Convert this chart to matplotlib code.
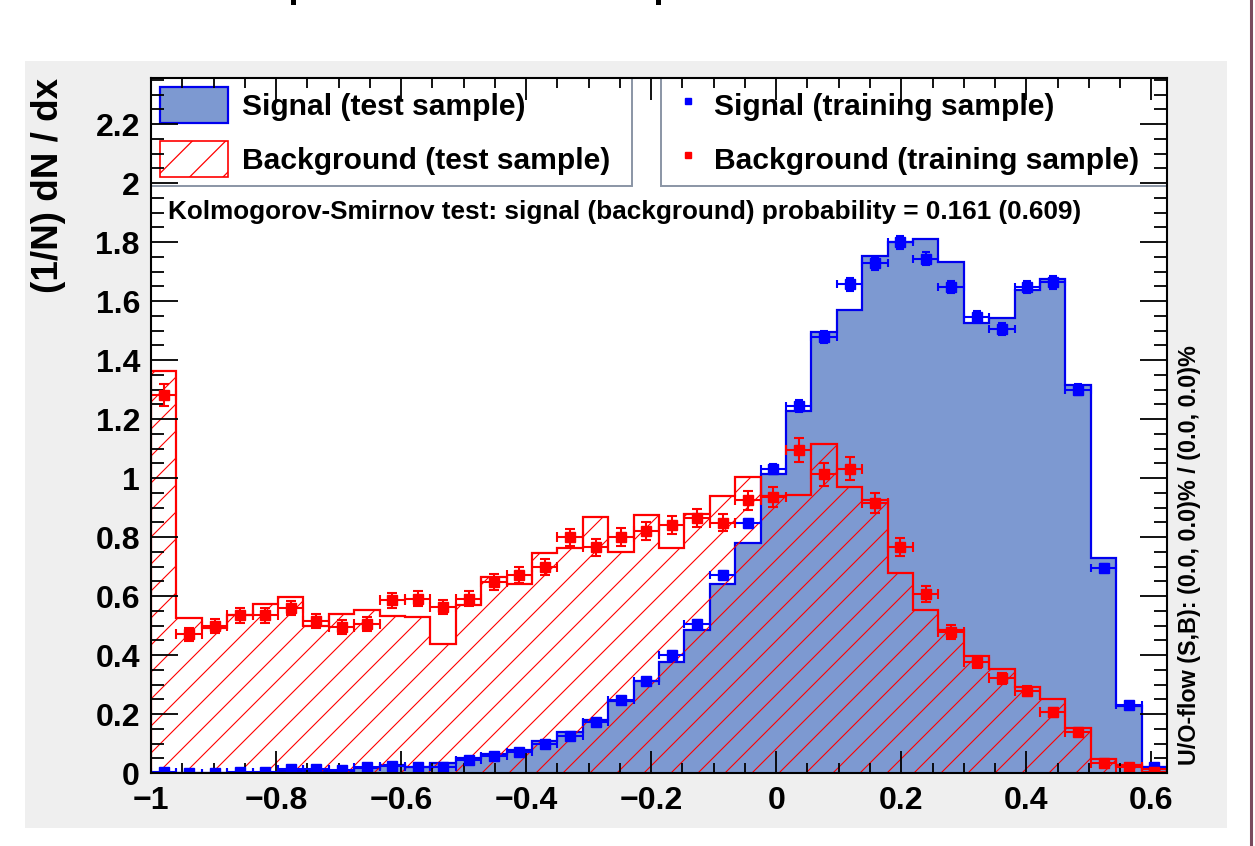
import numpy as np
import matplotlib
matplotlib.use("Agg")
import matplotlib.pyplot as plt
from matplotlib.patches import Patch, Rectangle
from matplotlib.lines import Line2D
from matplotlib.collections import LineCollection
from matplotlib.transforms import IdentityTransform
from matplotlib.ticker import MultipleLocator, FuncFormatter

# ---------------- data ----------------
x_min, x_max, n_bins = -1.0, 0.625, 40

sig_test = [0.0, 0.0, 0.0, 0.0, 0.001, 0.006, 0.006, 0.007, 0.017, 0.026,
            0.020, 0.033, 0.051, 0.064, 0.077, 0.108, 0.138, 0.180, 0.243, 0.312,
            0.377, 0.485, 0.640, 0.780, 1.012, 1.228, 1.494, 1.570, 1.752, 1.800,
            1.810, 1.731, 1.527, 1.541, 1.638, 1.675, 1.315, 0.728, 0.228, 0.022]

bkg_test = [1.364, 0.525, 0.490, 0.534, 0.574, 0.595, 0.497, 0.539, 0.554, 0.531,
            0.528, 0.438, 0.571, 0.663, 0.641, 0.745, 0.763, 0.868, 0.748, 0.875,
            0.762, 0.878, 0.938, 1.005, 0.938, 0.942, 1.114, 0.970, 0.925, 0.677,
            0.552, 0.485, 0.395, 0.354, 0.290, 0.251, 0.154, 0.049, 0.028, 0.012]

sig_train = [0.002, 0.001, 0.001, 0.002, 0.003, 0.012, 0.012, 0.010, 0.019, 0.023,
             0.021, 0.020, 0.044, 0.056, 0.071, 0.098, 0.125, 0.172, 0.248, 0.312,
             0.401, 0.506, 0.670, 0.846, 1.031, 1.244, 1.478, 1.656, 1.728, 1.800,
             1.744, 1.648, 1.547, 1.505, 1.648, 1.663, 1.300, 0.695, 0.232, 0.022]

sig_train_err = [0.002, 0.002, 0.002, 0.002, 0.002, 0.003, 0.003, 0.003, 0.004, 0.004,
                 0.004, 0.004, 0.005, 0.006, 0.006, 0.007, 0.008, 0.009, 0.010, 0.011,
                 0.012, 0.013, 0.015, 0.016, 0.018, 0.019, 0.020, 0.021, 0.022, 0.022,
                 0.022, 0.021, 0.020, 0.020, 0.021, 0.021, 0.019, 0.014, 0.008, 0.003]

bkg_train = [1.282, 0.471, 0.499, 0.534, 0.534, 0.559, 0.516, 0.494, 0.505, 0.586,
             0.591, 0.563, 0.591, 0.647, 0.670, 0.698, 0.799, 0.765, 0.800, 0.820,
             0.840, 0.865, 0.849, 0.924, 0.936, 1.094, 1.012, 1.032, 0.916, 0.766,
             0.607, 0.478, 0.377, 0.321, 0.278, 0.206, 0.138, 0.035, 0.019, 0.004]

bkg_train_err = [0.037, 0.022, 0.023, 0.024, 0.024, 0.024, 0.023, 0.023, 0.023, 0.025,
                 0.025, 0.024, 0.025, 0.026, 0.027, 0.027, 0.029, 0.029, 0.029, 0.030,
                 0.030, 0.031, 0.030, 0.032, 0.033, 0.040, 0.038, 0.040, 0.033, 0.030,
                 0.026, 0.023, 0.020, 0.019, 0.017, 0.015, 0.012, 0.006, 0.004, 0.002]

y_max = 2.356
legend_labels_test = ["Signal (test sample)", "Background (test sample)"]
legend_labels_train = ["Signal (training sample)", "Background (training sample)"]
ks_text = "Kolmogorov-Smirnov test: signal (background) probability = 0.161 (0.609)"
uoflow_text = "U/O-flow (S,B): (0.0, 0.0)% / (0.0, 0.0)%"
y_title = "(1/N) dN / dx"

# ---------------- style ----------------
SIG_FILL = "#7d99d1"
SIG_LINE = "#0000ee"
BKG_LINE = "#ff0000"
FONT = "Liberation Sans"

plt.rcParams["font.family"] = [FONT, "DejaVu Sans"]
plt.rcParams["font.weight"] = "bold"
plt.rcParams["hatch.color"] = BKG_LINE
plt.rcParams["hatch.linewidth"] = 0.9

W, H = 1255, 846
fig = plt.figure(figsize=(W / 100, H / 100), dpi=100, facecolor="white")

# grey canvas area
fig.add_artist(Rectangle((25 / W, 1 - 828 / H), 1202 / W, 767 / H,
                         transform=fig.transFigure, facecolor="#efefef",
                         edgecolor="none", zorder=0))
# dark right border line
fig.add_artist(Line2D([1251 / W, 1251 / W], [0, 1], transform=fig.transFigure,
                      color="#7a4a5e", lw=2.2))
# remnants of a cut-off title at the very top edge (small dark strokes)
for xp in (291, 656):
    fig.add_artist(Rectangle((xp / W, 1 - 5 / H), 4.5 / W, 5 / H,
                             transform=fig.transFigure, facecolor="black",
                             edgecolor="none"))

ax = fig.add_axes([151 / W, 1 - 773 / H, 1016 / W, 695 / H])
ax.set_facecolor("white")
ax.set_axisbelow(False)

edges = np.linspace(x_min, x_max, n_bins + 1)
centers = 0.5 * (edges[:-1] + edges[1:])
half = 0.5 * (edges[1] - edges[0])

# signal test histogram
ax.stairs(sig_test, edges, fill=True, facecolor=SIG_FILL, edgecolor="none", zorder=1)
ax.stairs(sig_test, edges, color=SIG_LINE, lw=1.6, zorder=1.2)

# background test histogram: hatched
bkg_patch = ax.stairs(bkg_test, edges, fill=True, facecolor="none",
                      edgecolor="none", zorder=1.3)
ax.set_xlim(x_min, x_max)
ax.set_ylim(0, y_max)

bb = ax.bbox
spacing = 27.0
cs = np.arange(bb.x0 - bb.y1 - spacing, bb.x1 - bb.y0 + spacing, spacing)
segs = [[(bb.x0, bb.x0 - c), (bb.x1, bb.x1 - c)] for c in cs]
hatch = LineCollection(segs, colors=BKG_LINE, linewidths=0.8,
                       transform=IdentityTransform(), zorder=1.4)
ax.add_collection(hatch, autolim=False)
hatch.set_clip_path(bkg_patch)
ax.stairs(bkg_test, edges, color=BKG_LINE, lw=1.6, zorder=1.5)

# training samples as points with errors
ax.errorbar(centers, sig_train, xerr=half, yerr=sig_train_err, fmt="s",
            color="#0000ff", ms=6.5, elinewidth=1.5, capsize=3, capthick=1.5, zorder=3)
ax.errorbar(centers, bkg_train, xerr=half, yerr=bkg_train_err, fmt="s",
            color="#ff0000", ms=7, elinewidth=1.5, capsize=3.5, capthick=1.5, zorder=3.1)

# axes styling
for s in ax.spines.values():
    s.set_linewidth(1.5)
    s.set_zorder(4)
ax.xaxis.set_major_locator(MultipleLocator(0.2))
ax.xaxis.set_minor_locator(MultipleLocator(0.05))
ax.yaxis.set_major_locator(MultipleLocator(0.2))
ax.yaxis.set_minor_locator(MultipleLocator(0.05))
fmt = FuncFormatter(lambda v, p: ("%g" % round(v, 3)).replace("-", "\u2212"))
ax.xaxis.set_major_formatter(fmt)
ax.yaxis.set_major_formatter(fmt)
ax.tick_params(which="both", direction="in", top=True, right=True, width=1.3,
               labelsize=23, colors="black")
ax.tick_params(axis="x", which="major", length=15.8, pad=9)
ax.tick_params(axis="x", which="minor", length=7.2)
ax.tick_params(axis="y", which="major", length=19.4, pad=8)
ax.tick_params(axis="y", which="minor", length=9.4)
for lab in ax.get_xticklabels() + ax.get_yticklabels():
    lab.set_fontweight("bold")

ax.set_ylabel(y_title, fontsize=26.5, fontweight="bold", loc="top")
ax.yaxis.set_label_coords(-0.101, 1.0)
ax.yaxis.label.set_va("center")

ax.text(1.0226, 0.0115, uoflow_text, transform=ax.transAxes, rotation=90,
        rotation_mode="anchor", ha="left", va="center", fontsize=16.8,
        fontweight="bold")
ax.text(0.0167, 0.807, ks_text, transform=ax.transAxes, ha="left", va="center",
        fontsize=18.8, fontweight="bold", zorder=5)

# legends (drawn below the axis ticks, like the reference)
lprop = {"family": FONT, "weight": "bold", "size": 21.6}
h_sig = Patch(facecolor=SIG_FILL, edgecolor=SIG_LINE, linewidth=1.6)
h_bkg = Patch(facecolor="white", edgecolor=BKG_LINE, hatch="/", linewidth=1.2)
leg1 = ax.legend([h_sig, h_bkg], legend_labels_test, loc="upper left",
                 bbox_to_anchor=(0.0, 0.849, 0.4734, 0.151), mode="expand",
                 borderaxespad=0, prop=lprop, handlelength=2.27, handleheight=1.45,
                 labelspacing=0.62, borderpad=0.3, handletextpad=0.45,
                 fancybox=False, framealpha=1, edgecolor="#8a95a5")
leg1.get_frame().set_linewidth(1.4)
leg1.set_zorder(2.2)
ax.add_artist(leg1)

h_st = Line2D([], [], marker="s", ls="none", color="#0000ff", ms=4.5)
h_bt = Line2D([], [], marker="s", ls="none", color="#ff0000", ms=4.5)
leg2 = ax.legend([h_st, h_bt], legend_labels_train, loc="upper left",
                 bbox_to_anchor=(0.502, 0.849, 0.498, 0.151), mode="expand",
                 borderaxespad=0, prop=lprop, handlelength=1.23, handleheight=1.45,
                 labelspacing=0.62, borderpad=0.3, handletextpad=0.25,
                 fancybox=False, framealpha=1, edgecolor="#8a95a5")
leg2.get_frame().set_linewidth(1.4)
leg2.set_zorder(2.2)

fig.savefig("out.png", dpi=100, facecolor="white")
